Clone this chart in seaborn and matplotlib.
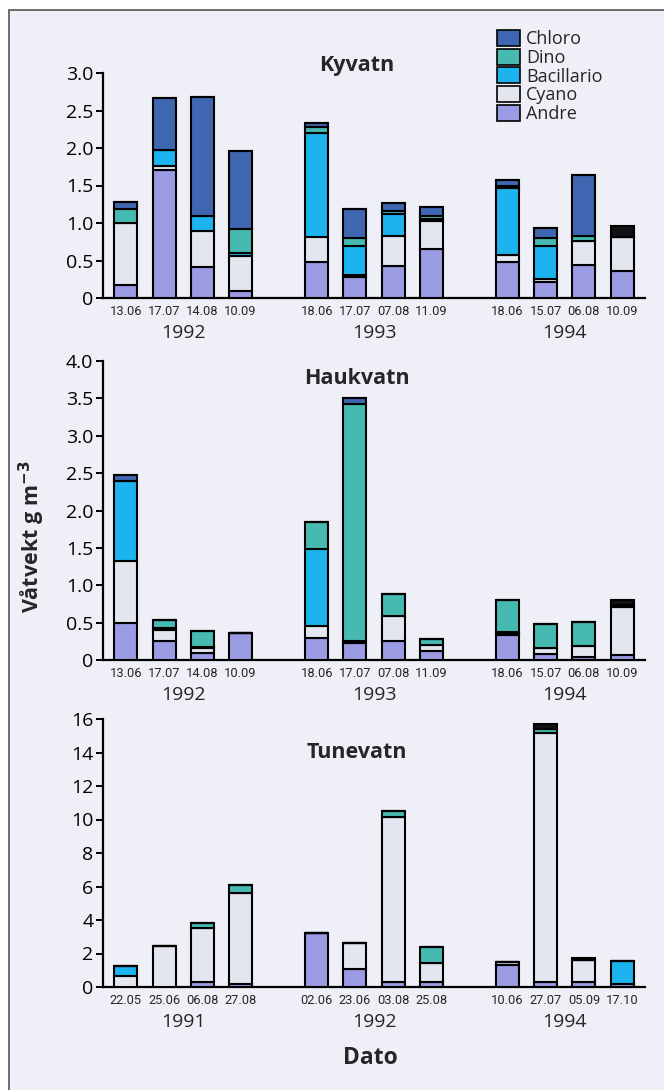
import numpy as np
import matplotlib
matplotlib.use("Agg")
import matplotlib.pyplot as plt
import matplotlib.patches as mpatches
import seaborn as sns

# ---------------- data ----------------
categories = ["Andre", "Cyano", "Bacillario", "Dino", "Chloro", "Other"]
legend_order = ["Chloro", "Dino", "Bacillario", "Cyano", "Andre"]

positions = [0, 1, 2, 3, 5, 6, 7, 8, 10, 11, 12, 13]
group_centres = [1.5, 6.5, 11.5]

# Kyvatn
ky_dates = ["13.06", "17.07", "14.08", "10.09", "18.06", "17.07", "07.08", "11.09",
            "18.06", "15.07", "06.08", "10.09"]
ky_years = ["1992", "1993", "1994"]
ky_andre = [0.17, 1.71, 0.42, 0.10, 0.48, 0.28, 0.43, 0.65, 0.48, 0.22, 0.44, 0.36]
ky_cyano = [0.83, 0.05, 0.48, 0.46, 0.34, 0.03, 0.40, 0.38, 0.09, 0.03, 0.32, 0.46]
ky_bacil = [0.00, 0.22, 0.20, 0.04, 1.38, 0.38, 0.29, 0.02, 0.90, 0.45, 0.00, 0.00]
ky_dino = [0.19, 0.00, 0.00, 0.32, 0.08, 0.11, 0.04, 0.04, 0.03, 0.10, 0.07, 0.00]
ky_chloro = [0.09, 0.69, 1.58, 1.04, 0.05, 0.39, 0.11, 0.13, 0.07, 0.13, 0.81, 0.00]
ky_other = [0, 0, 0, 0, 0, 0, 0, 0, 0, 0, 0, 0.14]

# Haukvatn
ha_dates = ["13.06", "17.07", "14.08", "10.09", "18.06", "17.07", "07.08", "11.09",
            "18.06", "15.07", "06.08", "10.09"]
ha_years = ["1992", "1993", "1994"]
ha_andre = [0.50, 0.25, 0.09, 0.36, 0.30, 0.23, 0.26, 0.12, 0.34, 0.08, 0.04, 0.07]
ha_cyano = [0.82, 0.15, 0.07, 0.00, 0.16, 0.03, 0.33, 0.08, 0.02, 0.08, 0.15, 0.64]
ha_bacil = [1.07, 0.03, 0.02, 0.00, 1.02, 0.00, 0.00, 0.00, 0.02, 0.00, 0.00, 0.00]
ha_dino = [0.00, 0.10, 0.21, 0.00, 0.36, 3.17, 0.29, 0.08, 0.42, 0.32, 0.32, 0.03]
ha_chloro = [0.09, 0.00, 0.00, 0.00, 0.00, 0.08, 0.00, 0.00, 0.00, 0.00, 0.00, 0.00]
ha_other = [0, 0, 0, 0, 0, 0, 0, 0, 0, 0, 0, 0.06]

# Tunevatn
tu_dates = ["22.05", "25.06", "06.08", "27.08", "02.06", "23.06", "03.08", "25.08",
            "10.06", "27.07", "05.09", "17.10"]
tu_years = ["1991", "1992", "1994"]
tu_andre = [0.02, 0.00, 0.30, 0.20, 3.25, 1.08, 0.30, 0.30, 1.29, 0.30, 0.30, 0.20]
tu_cyano = [0.66, 2.42, 3.23, 5.44, 0.00, 1.57, 9.82, 1.13, 0.22, 14.88, 1.29, 0.00]
tu_bacil = [0.56, 0.00, 0.00, 0.00, 0.00, 0.00, 0.00, 0.00, 0.00, 0.00, 0.00, 1.35]
tu_dino = [0.00, 0.05, 0.32, 0.46, 0.00, 0.00, 0.40, 0.96, 0.00, 0.25, 0.00, 0.00]
tu_chloro = [0, 0, 0, 0, 0, 0, 0, 0, 0, 0, 0, 0]
tu_other = [0, 0, 0, 0, 0, 0, 0, 0, 0, 0.25, 0.16, 0]

colors = {
    "Chloro": "#3f66b0",
    "Dino": "#46b9b1",
    "Bacillario": "#1db3ee",
    "Cyano": "#e3e5ef",
    "Andre": "#9a9be2",
    "Other": "#111111",
}

# ---------------- style ----------------
sns.set_style("ticks")
plt.rcParams["font.family"] = ["Open Sans", "DejaVu Sans"]
plt.rcParams["mathtext.fontset"] = "dejavusans"

W, H = 664, 1090
fig = plt.figure(figsize=(W / 100, H / 100), dpi=100, facecolor="white")

# page frame
frame = mpatches.Rectangle((9 / W, -0.02), 1.05, 1 - 10 / H + 0.02,
                           transform=fig.transFigure, facecolor="#eff0f7",
                           edgecolor="#555555", linewidth=1.2, zorder=-10)
fig.patches.append(frame)


def fx(px):
    return px / W


def fy(py):
    return 1 - py / H


left_px, right_px = 103, 645
panels = [
    dict(name="Kyvatn", top=73, base=298, ymax=3.0, yticks=[0, 0.5, 1.0, 1.5, 2.0, 2.5, 3.0],
         ylabels=["0", "0.5", "1.0", "1.5", "2.0", "2.5", "3.0"],
         dates=ky_dates, years=ky_years,
         data=dict(Andre=ky_andre, Cyano=ky_cyano, Bacillario=ky_bacil, Dino=ky_dino,
                   Chloro=ky_chloro, Other=ky_other), title_y=65),
    dict(name="Haukvatn", top=361, base=660, ymax=4.0,
         yticks=[0, 0.5, 1.0, 1.5, 2.0, 2.5, 3.0, 3.5, 4.0],
         ylabels=["0", "0.5", "1.0", "1.5", "2.0", "2.5", "3.0", "3.5", "4.0"],
         dates=ha_dates, years=ha_years,
         data=dict(Andre=ha_andre, Cyano=ha_cyano, Bacillario=ha_bacil, Dino=ha_dino,
                   Chloro=ha_chloro, Other=ha_other), title_y=378),
    dict(name="Tunevatn", top=719, base=987, ymax=16,
         yticks=[0, 2, 4, 6, 8, 10, 12, 14, 16],
         ylabels=["0", "2", "4", "6", "8", "10", "12", "14", "16"],
         dates=tu_dates, years=tu_years,
         data=dict(Andre=tu_andre, Cyano=tu_cyano, Bacillario=tu_bacil, Dino=tu_dino,
                   Chloro=tu_chloro, Other=tu_other), title_y=753),
]

narrow = ["Roboto", "DejaVu Sans"]

for p in panels:
    ax = fig.add_axes([fx(left_px), fy(p["base"]), fx(right_px - left_px),
                       (p["base"] - p["top"]) / H])
    ax.set_facecolor("none")
    bottom = np.zeros(len(positions))
    for cat in categories:
        vals = np.array(p["data"][cat], dtype=float)
        sns.barplot(x=positions, y=vals, bottom=bottom, native_scale=True, orient="x",
                    color=colors[cat], saturation=1, edgecolor="black", linewidth=1.5,
                    width=0.6, errorbar=None, ax=ax, zorder=3)
        bottom = bottom + vals
    ax.set_xlim(-0.6, 13.6)
    ax.set_ylim(0, p["ymax"])
    ax.set_xlabel("")
    ax.set_ylabel("")
    sns.despine(ax=ax)
    for s in ["left", "bottom"]:
        ax.spines[s].set_linewidth(1.6)
        ax.spines[s].set_color("black")
    ax.set_yticks(p["yticks"])
    ax.set_yticklabels(p["ylabels"], fontsize=14)
    ax.tick_params(axis="y", direction="out", length=5, width=1.4, pad=2, colors="black")
    ax.set_xticks(positions)
    ax.set_xticklabels(p["dates"], fontsize=9.3, family=narrow)
    ax.tick_params(axis="x", length=0, pad=5)
    for c, yr in zip(group_centres, p["years"]):
        ax.annotate(yr, xy=(c, 0), xycoords=("data", "axes fraction"),
                    xytext=(0, -25), textcoords="offset points",
                    ha="center", va="center", fontsize=14)
    fig.text(fx(357), fy(p["title_y"]), p["name"], ha="center", va="center",
             fontsize=15.5, fontweight="bold")

# legend
handles = [mpatches.Patch(facecolor=colors[c], edgecolor="black", linewidth=1.2, label=c)
           for c in legend_order]
fig.legend(handles=handles, loc="upper left", bbox_to_anchor=(fx(497), fy(30)),
           frameon=False, fontsize=13, handlelength=1.3, handleheight=1.0,
           labelspacing=0.02, handletextpad=0.3, borderaxespad=0, borderpad=0)

fig.text(fx(32), fy(537), "Våtvekt g m$^{\\mathbf{-3}}$", rotation=90, ha="center",
         va="center", fontsize=15.5, fontweight="bold")
fig.text(fx(370), fy(1058), "Dato", ha="center", va="center", fontsize=16.5,
         fontweight="bold")

fig.savefig("out.png", dpi=100, facecolor="white")
